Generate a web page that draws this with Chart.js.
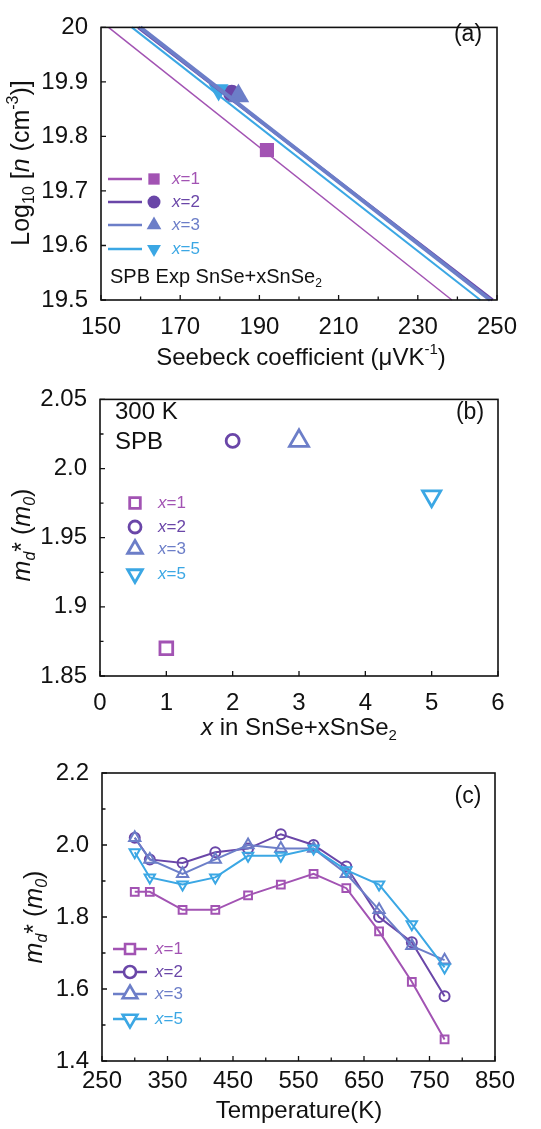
<!DOCTYPE html>
<html><head><meta charset="utf-8">
<script src="https://cdn.jsdelivr.net/npm/chart.js@4/dist/chart.umd.min.js"></script>
<style>
html,body{margin:0;padding:0;background:#fff;width:541px;height:1129px;overflow:hidden}
.p{position:absolute;left:0}
</style></head><body>
<div class="p" style="top:0"><canvas id="ca" width="541" height="372"></canvas></div>
<div class="p" style="top:372px"><canvas id="cb" width="541" height="370"></canvas></div>
<div class="p" style="top:742px"><canvas id="cc" width="541" height="387"></canvas></div>
<script>
// ---------- DATA ----------
const seriesNames = ['x=1','x=2','x=3','x=5'];
const colors = ['#a253b3','#6a46a8','#6c7ec8','#3ba7e4'];
// (a) SPB model lines: Seebeck endpoints at log10 n = 20 and 19.5
const spbLogN = [20, 19.5];
const spbS1 = [151.9, 238.6];
const spbS2 = [159.4, 248.9];
const spbS3 = [159.9, 248.3];
const spbS5 = [157.8, 245.8];
// (a) experimental points
const expS = [191.9, 183.0, 184.7, 179.7];
const expLogN = [19.775, 19.879, 19.874, 19.885];
// (b) m_d* at 300 K
const bX = [1, 2, 3, 5];
const bMd = [1.87, 2.02, 2.02, 1.98];
const bYTickLabels = ['1.85','1.9','1.95','2.0','2.05'];
// (c) m_d* vs temperature
const temps = [300,323,373,423,473,523,573,623,673,723,773];
const md1 = [1.87,1.87,1.82,1.82,1.86,1.89,1.92,1.88,1.76,1.62,1.46];
const md2 = [2.02,1.96,1.95,1.98,1.99,2.03,2.00,1.94,1.80,1.73,1.58];
const md3 = [2.02,1.96,1.92,1.96,2.00,1.99,1.99,1.92,1.82,1.72,1.68];
const md5 = [1.98,1.91,1.89,1.91,1.97,1.97,1.99,1.93,1.89,1.78,1.66];
const cYTickLabels = ['1.4','1.6','1.8','2.0','2.2'];

// ---------- helpers ----------
const FF = "'Liberation Sans', Arial, Helvetica, sans-serif";
Chart.defaults.font.family = FF;
Chart.defaults.color = '#111';
Chart.defaults.animation = false;
const TICK = 24;

function drawRich(ctx, segs, x, y, size, color, align, rot) {
  ctx.save();
  ctx.translate(x, y);
  if (rot) ctx.rotate(rot);
  ctx.textBaseline = 'middle';
  ctx.textAlign = 'left';
  const fonts = segs.map(s => (s.i ? 'italic ' : '') + ((s.sub || s.sup) ? Math.round(size * 0.62) : size) + 'px ' + FF);
  let w = 0;
  const ws = segs.map((s, k) => { ctx.font = fonts[k]; const m = ctx.measureText(s.t).width; w += m; return m; });
  let cx = align === 'center' ? -w / 2 : (align === 'right' ? -w : 0);
  segs.forEach((s, k) => {
    ctx.font = fonts[k];
    ctx.fillStyle = s.c || color;
    const dy = s.sub ? size * 0.32 : (s.sup ? -size * 0.33 : 0);
    ctx.fillText(s.t, cx, dy);
    cx += ws[k];
  });
  ctx.restore();
}

function pointOpts(style, r, rot, bw) {
  return { pointStyle: style, radius: r, rotation: rot || 0, borderWidth: bw };
}

function frameTicks(cfg) {
  return {
    id: 'frameTicks',
    afterDatasetsDraw(chart) {
      const ctx = chart.ctx, a = chart.chartArea;
      const xs = chart.scales.x, ys = chart.scales.y;
      ctx.save();
      ctx.strokeStyle = '#111';
      ctx.lineWidth = 1.6;
      ctx.strokeRect(a.left, a.top, a.right - a.left, a.bottom - a.top);
      ctx.lineWidth = 1.3;
      ctx.beginPath();
      for (let v = cfg.xMin; v <= cfg.xMax + 1e-9; v += cfg.xMinor) {
        const p = xs.getPixelForValue(v);
        const major = Math.abs(((v - cfg.xMin) / cfg.xMajor) - Math.round((v - cfg.xMin) / cfg.xMajor)) < 1e-6;
        const L = major ? 5 : 3.5;
        ctx.moveTo(p, a.bottom); ctx.lineTo(p, a.bottom - L);
      }
      for (let v = cfg.yMin; v <= cfg.yMax + 1e-9; v += cfg.yMinor) {
        const p = ys.getPixelForValue(v);
        const major = Math.abs(((v - cfg.yMin) / cfg.yMajor) - Math.round((v - cfg.yMin) / cfg.yMajor)) < 1e-6;
        const L = major ? 5 : 3.5;
        ctx.moveTo(a.left, p); ctx.lineTo(a.left + L, p);
      }
      ctx.stroke();
      ctx.restore();
    }
  };
}

function baseScales(o) {
  return {
    x: {
      type: 'linear', min: o.xMin, max: o.xMax,
      grid: { display: false, drawTicks: false },
      border: { display: false },
      ticks: { stepSize: o.xStep, font: { size: TICK }, padding: o.xPad, color: '#111', maxRotation: 0,
               callback: o.xCb || (v => v) },
      afterFit(s) { s.height = o.xH; }
    },
    y: {
      type: 'linear', min: o.yMin, max: o.yMax,
      grid: { display: false, drawTicks: false },
      border: { display: false },
      ticks: { stepSize: o.yStep, font: { size: TICK }, padding: o.yPad, color: '#111',
               callback: o.yCb || (v => v) },
      afterFit(s) { s.width = o.yW; }
    }
  };
}

// ---------- (a) ----------
const lineSets = [spbS1, spbS2, spbS3, spbS5];
const lineWidths = [1.5, 3.2, 4, 2];
const markStyles = ['rect', 'circle', 'triangle', 'triangle'];
const markRot = [0, 0, 0, 180];
const markRA = [10, 8.5, 12.5, 11.5];
const aDatasets = [];
const lineOrder = [0, 3, 2, 1];
lineOrder.forEach(i => {
  aDatasets.push({
    data: lineSets[i].map((s, k) => ({ x: s, y: spbLogN[k] })),
    showLine: true, borderColor: colors[i], borderWidth: lineWidths[i], pointRadius: 0, fill: false
  });
});
[2, 3, 0, 1].forEach(i => {
  aDatasets.push({
    data: [{ x: expS[i], y: expLogN[i] }],
    pointStyle: markStyles[i], rotation: markRot[i], pointRadius: markRA[i],
    backgroundColor: colors[i], borderColor: colors[i], borderWidth: 0, showLine: false
  });
});

new Chart(document.getElementById('ca'), {
  type: 'scatter',
  data: { datasets: aDatasets },
  options: {
    responsive: false, clip: false,
    layout: { padding: { top: 10, right: 44, left: 0, bottom: 0 } },
    plugins: { legend: { display: false }, tooltip: { enabled: false } },
    scales: baseScales({ xMin: 150, xMax: 250, xStep: 20, xPad: 13, xH: 72,
                         yMin: 19.5, yMax: 20, yStep: 0.1, yPad: 13, yW: 101 })
  },
  plugins: [frameTicks({ xMin: 150, xMax: 250, xMajor: 20, xMinor: 10, yMin: 19.5, yMax: 20, yMajor: 0.1, yMinor: 0.1 }), {
    id: 'annA',
    afterDraw(chart) {
      const ctx = chart.ctx;
      drawRich(ctx, [{ t: 'Seebeck coefficient (μVK' }, { t: '-1', sup: 1 }, { t: ')' }], 301, 358, 24, '#111', 'center');
      drawRich(ctx, [{ t: 'Log' }, { t: '10', sub: 1 }, { t: ' [' }, { t: 'n', i: 1 }, { t: ' (cm' }, { t: '-3', sup: 1 }, { t: ')]' }], 22, 163, 25, '#111', 'center', -Math.PI / 2);
      drawRich(ctx, [{ t: '(a)' }], 468, 35, 23, '#111', 'center');
      drawRich(ctx, [{ t: 'SPB Exp SnSe+xSnSe' }, { t: '2', sub: 1 }], 110, 277, 20, '#111', 'left');
      const rows = [179, 202, 225, 249];
      const legR = [8, 6.5, 8.5, 8];
      rows.forEach((ry, i) => {
        ctx.save();
        ctx.strokeStyle = colors[i]; ctx.lineWidth = 2.5;
        ctx.beginPath(); ctx.moveTo(108, ry); ctx.lineTo(142, ry); ctx.stroke();
        ctx.fillStyle = colors[i];
        Chart.helpers.drawPoint(ctx, pointOpts(markStyles[i], legR[i], markRot[i], 0), 154, ry);
        ctx.restore();
        drawRich(ctx, [{ t: 'x', i: 1 }, { t: seriesNames[i].slice(1) }], 172, ry, 17, colors[i], 'left');
      });
    }
  }]
});

// ---------- (b) ----------
const bRad = [9, 6.5, 11, 10.5];
const bDatasets = [0, 1, 2, 3].map(i => ({
  data: [{ x: bX[i], y: bMd[i] }],
  pointStyle: markStyles[i], rotation: markRot[i], pointRadius: bRad[i],
  backgroundColor: '#fff', borderColor: colors[i], borderWidth: 2.8, showLine: false
}));
new Chart(document.getElementById('cb'), {
  type: 'scatter',
  data: { datasets: bDatasets },
  options: {
    responsive: false, clip: false,
    layout: { padding: { top: 15, right: 43, left: 0, bottom: 0 } },
    plugins: { legend: { display: false }, tooltip: { enabled: false } },
    scales: baseScales({ xMin: 0, xMax: 6, xStep: 1, xPad: 13, xH: 66,
                         yMin: 1.85, yMax: 2.05, yStep: 0.05, yPad: 13, yW: 100,
                         yCb: (v, idx) => bYTickLabels[idx] })
  },
  plugins: [frameTicks({ xMin: 0, xMax: 6, xMajor: 1, xMinor: 1, yMin: 1.85, yMax: 2.05, yMajor: 0.05, yMinor: 0.025 }), {
    id: 'annB',
    afterDraw(chart) {
      const ctx = chart.ctx;
      drawRich(ctx, [{ t: 'x', i: 1 }, { t: ' in SnSe+xSnSe' }, { t: '2', sub: 1 }], 299, 356, 24, '#111', 'center');
      drawRich(ctx, [{ t: 'm', i: 1 }, { t: 'd', i: 1, sub: 1 }, { t: '* (' }, { t: 'm', i: 1 }, { t: '0', i: 1, sub: 1 }, { t: ')' }], 23, 163, 25, '#111', 'center', -Math.PI / 2);
      drawRich(ctx, [{ t: '300 K' }], 115, 40, 24, '#111', 'left');
      drawRich(ctx, [{ t: 'SPB' }], 115, 70, 24, '#111', 'left');
      drawRich(ctx, [{ t: '(b)' }], 470, 41, 23, '#111', 'center');
      const rows = [131, 155, 177, 202];
      const legR = [7.5, 6, 8.5, 8.5];
      rows.forEach((ry, i) => {
        ctx.save();
        ctx.strokeStyle = colors[i]; ctx.fillStyle = '#fff'; ctx.lineWidth = 2.8;
        Chart.helpers.drawPoint(ctx, pointOpts(markStyles[i], legR[i], markRot[i], 2.8), 135, ry);
        ctx.restore();
        drawRich(ctx, [{ t: 'x', i: 1 }, { t: seriesNames[i].slice(1) }], 158, ry, 17, colors[i], 'left');
      });
    }
  }]
});

// ---------- (c) ----------
const cSeries = [md1, md2, md3, md5];
const cRad = [5.5, 5, 6.5, 6];
const cDatasets = [0, 3, 2, 1].map(i => ({
  data: temps.map((t, k) => ({ x: t, y: cSeries[i][k] })),
  showLine: true, borderColor: colors[i], borderWidth: 2, backgroundColor: '#fff',
  pointStyle: markStyles[i], rotation: markRot[i], pointRadius: cRad[i], pointBorderWidth: 2,
  pointBorderColor: colors[i], pointBackgroundColor: 'rgba(255,255,255,0)'
}));
new Chart(document.getElementById('cc'), {
  type: 'scatter',
  data: { datasets: cDatasets },
  options: {
    responsive: false, clip: false,
    layout: { padding: { top: 31, right: 46, left: 0, bottom: 0 } },
    plugins: { legend: { display: false }, tooltip: { enabled: false } },
    scales: baseScales({ xMin: 250, xMax: 850, xStep: 100, xPad: 6, xH: 68,
                         yMin: 1.4, yMax: 2.2, yStep: 0.2, yPad: 13, yW: 102,
                         yCb: (v, idx) => cYTickLabels[idx] })
  },
  plugins: [frameTicks({ xMin: 250, xMax: 850, xMajor: 100, xMinor: 50, yMin: 1.4, yMax: 2.2, yMajor: 0.2, yMinor: 0.1 }), {
    id: 'annC',
    afterDraw(chart) {
      const ctx = chart.ctx;
      drawRich(ctx, [{ t: 'Temperature(K)' }], 299, 369, 24, '#111', 'center');
      drawRich(ctx, [{ t: 'm', i: 1 }, { t: 'd', i: 1, sub: 1 }, { t: '* (' }, { t: 'm', i: 1 }, { t: '0', i: 1, sub: 1 }, { t: ')' }], 35, 175, 25, '#111', 'center', -Math.PI / 2);
      drawRich(ctx, [{ t: '(c)' }], 468, 55, 23, '#111', 'center');
      const rows = [207, 230, 252, 277];
      const legR = [7, 6, 8.5, 8.5];
      rows.forEach((ry, i) => {
        ctx.save();
        ctx.strokeStyle = colors[i]; ctx.lineWidth = 2.6;
        ctx.beginPath(); ctx.moveTo(113, ry); ctx.lineTo(147, ry); ctx.stroke();
        ctx.fillStyle = '#fff';
        Chart.helpers.drawPoint(ctx, pointOpts(markStyles[i], legR[i], markRot[i], 2.6), 130, ry);
        ctx.restore();
        drawRich(ctx, [{ t: 'x', i: 1 }, { t: seriesNames[i].slice(1) }], 155, ry, 17, colors[i], 'left');
      });
    }
  }]
});
</script>
</body></html>
